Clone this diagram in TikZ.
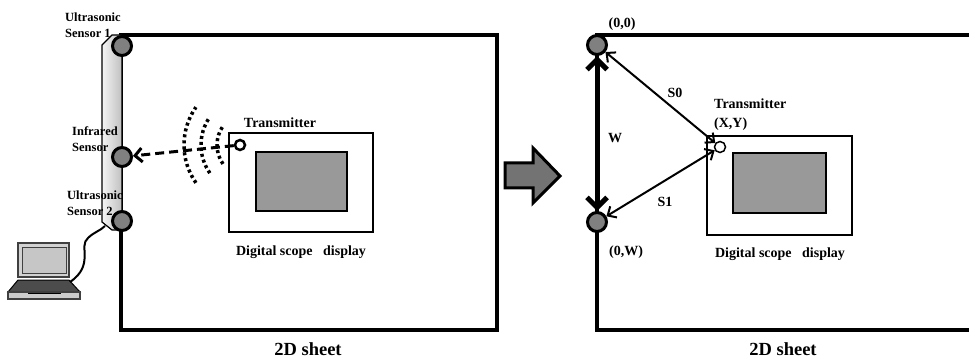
\documentclass[tikz,border=0pt]{standalone}
\usepackage{fontspec}
\setmainfont{Liberation Serif}
\usetikzlibrary{arrows.meta}

\tikzset{
  sensor/.style={circle, draw, line width=3pt, fill=gray, minimum size=19pt, inner sep=0pt},
  txdot/.style={circle, draw, fill=white, inner sep=0pt},
  sheet/.style={line width=3.5pt},
  lbl/.style={font=\fontsize{12.5}{16}\selectfont\bfseries, inner sep=0pt},
  txt/.style={font=\fontsize{14}{19}\selectfont\bfseries, inner sep=0pt},
  big/.style={font=\fontsize{18.5}{22}\selectfont\bfseries, inner sep=0pt},
  sbarb/.tip={Straight Barb[length=7pt,width=13pt]},
  wbarb/.tip={Straight Barb[length=10pt,width=20pt]}
}

\begin{document}
\begin{tikzpicture}[x=1pt,y=-1pt]
  \useasboundingbox (0,0) rectangle (969,358);

  % Sheets
  \draw[sheet] (121,35) rectangle (497,330);
  \draw[sheet] (975,35) -- (597,35) -- (597,330) -- (975,330);
  \node[big] (sheetA) at (308,349) {2D sheet};
  \node[big] (sheetB) at (783,349) {2D sheet};

  % Sensor bar
  \draw[line width=1.2pt, left color=gray!8, right color=gray!50]
    (102,45) -- (112,35) -- (122,35) -- (122,230) -- (112,230) -- (102,222) -- cycle;

  % Laptop
  \draw[line width=1.2pt, draw=black!75, fill=gray!35] (18,243) rectangle (69,277);
  \draw[line width=1pt, draw=black!75, fill=gray!45] (22,247) rectangle (66,273);
  \draw[line width=1pt, fill=black!70] (18,280) -- (69,280) -- (80,292) -- (8,292) -- cycle;
  \draw[line width=1.2pt, draw=black!75, fill=gray!40] (8,292) rectangle (80,299);
  \draw[line width=1.2pt] (28,293.5) -- (61,293.5);
  \coordinate (pc) at (70,282);
  \coordinate (barfoot) at (105,226);
  \draw[line width=2pt] (pc) .. controls (95,265) and (78,246) .. (88,238)
    .. controls (94,232) and (100,231) .. (barfoot);

  % Sensors
  \node[sensor] (us1) at (122,46) {};
  \node[sensor] (ir) at (122,157) {};
  \node[sensor] (us2) at (122,221) {};
  \node[lbl, align=left, anchor=north west] (us1lbl) at (65,13) {Ultrasonic\\Sensor 1};
  \node[lbl, align=left, anchor=north west] (irlbl) at (72,126) {Infrared\\Sensor};
  \node[lbl, align=left, anchor=north west] (us2lbl) at (67,191) {Ultrasonic\\Sensor 2};

  % Display with transmitter
  \draw[line width=1.8pt] (229,133) rectangle (373,232);
  \draw[line width=1.8pt, fill=gray!80] (256,152) rectangle (347,211);
  \node[txdot, line width=2.5pt, minimum size=10pt] (tx) at (240,145) {};
  \node[txt] (txlbl) at (280,123) {Transmitter};
  \node[txt] (scopeA) at (301,252) {Digital scope \ \ display};

  % Signal
  \foreach \r in {33,49,66}
    \draw[line width=3.5pt, dash pattern=on 3pt off 3pt]
      (250,145) ++(145:\r) arc (145:215:\r);
  \draw[line width=3pt, dash pattern=on 9pt off 5pt, -{Straight Barb[length=7pt,width=14pt]}]
    (tx) -- (ir);

  % Arrow between the two views
  \draw[line width=3pt, fill=gray!90!black] (505,163) -- (533,163) -- (533,148) -- (560,176)
    -- (533,203) -- (533,188) -- (505,188) -- cycle;

  % Coordinates
  \node[sensor] (c00) at (597,45) {};
  \node[sensor] (c0w) at (597,222) {};
  \node[txt] (c00lbl) at (622,24) {(0,0)};
  \node[txt] (c0wlbl) at (626,252) {(0,W)};
  \draw[line width=1.8pt] (707,136) rectangle (852,235);
  \draw[line width=1.8pt, fill=gray!80] (733,153) rectangle (826,213);
  \node[txdot, line width=1.5pt, minimum size=11pt] (txB) at (720,147) {};
  \node[txt, align=left, anchor=north west] (txBlbl) at (714,99) {Transmitter\\(X,Y)};
  \node[txt] (scopeB) at (780,254) {Digital scope \ \ display};

  % Distances
  \draw[line width=5pt, wbarb-wbarb] (c00) -- (c0w);
  \draw[line width=2pt, sbarb-sbarb] (c00) -- (txB);
  \draw[line width=2pt, sbarb-sbarb] (c0w) -- (txB);
  \node[txt] (wlbl) at (615,138) {W};
  \node[txt] (s0lbl) at (675,93) {S0};
  \node[txt] (s1lbl) at (665,202) {S1};
\end{tikzpicture}
\end{document}
